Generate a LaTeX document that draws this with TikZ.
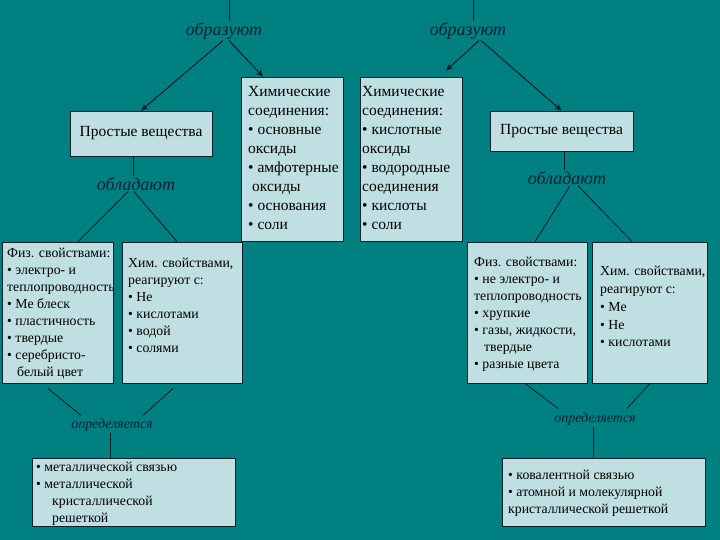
\documentclass[tikz,border=0pt]{standalone}
\usepackage{fontspec}
\setmainfont{Liberation Serif}
\usetikzlibrary{arrows.meta}
\definecolor{bg}{HTML}{008080}
\definecolor{boxfill}{HTML}{C0DFE3}
\definecolor{boxline}{HTML}{10202A}
\definecolor{labc}{HTML}{0C2036}
\definecolor{linec}{HTML}{0C1A2A}
\tikzset{
  box/.style={draw=boxline, fill=boxfill, line width=0.8pt, inner sep=0pt},
  txt/.style={anchor=north west, inner sep=0pt, align=left, text=black},
  lbl/.style={inner sep=1pt, text=labc, font=\itshape\fontsize{18}{20}\selectfont},
  slbl/.style={inner sep=1pt, text=labc, font=\itshape\fontsize{14}{16}\selectfont},
  conn/.style={draw=linec, line width=0.8pt},
  arr/.style={conn, line width=1pt, -{Stealth[length=7pt,width=6pt]}},
  big/.style={font=\fontsize{15.5}{19}\selectfont},
  mid/.style={font=\fontsize{13.8}{17}\selectfont}
}
\begin{document}
\begin{tikzpicture}[x=1pt,y=-1pt]
\fill[bg] (0,0) rectangle (720,540);
\useasboundingbox (0,0) rectangle (720,540);

% boxes
\node[box, minimum width=142, minimum height=45] (ps1) at (141,133.5) {};
\node[box, minimum width=102, minimum height=164] (ch1) at (292,159) {};
\node[box, minimum width=102, minimum height=164] (ch2) at (411,159) {};
\node[box, minimum width=143, minimum height=40] (ps2) at (561.5,131) {};
\node[box, minimum width=111, minimum height=141] (f1) at (57.5,312.5) {};
\node[box, minimum width=120, minimum height=141] (h1) at (182,312.5) {};
\node[box, minimum width=120, minimum height=141] (f2) at (527,312.5) {};
\node[box, minimum width=115, minimum height=141] (h2) at (649.5,312.5) {};
\node[box, minimum width=203, minimum height=68] (m1) at (133.5,492) {};
\node[box, minimum width=203, minimum height=68] (m2) at (603.5,492) {};

% texts
\node[big, inner sep=0pt] (tps1) at (141,133) {Простые вещества};
\node[big, inner sep=0pt] (tps2) at (561.5,131) {Простые вещества};
\node[txt, big] (tch1) at (248,86.5) {Химические\\соединения:\\• основные\\оксиды\\• амфотерные\\\hspace*{4pt}оксиды\\• основания\\• соли};
\node[txt, big] (tch2) at (362,86.5) {Химические\\соединения:\\• кислотные\\оксиды\\• водородные\\соединения\\• кислоты\\• соли};
\node[txt, mid] (tf1) at (7,247.5) {Физ. свойствами:\\• электро- и\\теплопроводность\\• Ме блеск\\• пластичность\\• твердые\\• серебристо-\\\hspace*{10pt}белый цвет};
\node[txt, mid] (th1) at (128,258) {Хим. свойствами,\\реагируют с:\\• Не\\• кислотами\\• водой\\• солями};
\node[txt, mid] (tf2) at (474,257) {Физ. свойствами:\\• не электро- и\\теплопроводность\\• хрупкие\\• газы, жидкости,\\\hspace*{10pt}твердые\\• разные цвета};
\node[txt, mid, font=\fontsize{13.8}{17.8}\selectfont] (th2) at (600,266) {Хим. свойствами,\\реагируют с:\\• Ме\\• Не\\• кислотами};
\node[txt, mid] (tm1) at (36,461.5) {• металлической связью\\• металлической\\\hspace*{16pt}кристаллической\\\hspace*{16pt}решеткой};
\node[txt, mid] (tm2) at (508,469.5) {• ковалентной связью\\• атомной и молекулярной\\кристаллической решеткой};

% labels
\node[lbl] (o1) at (224,31) {образуют};
\node[lbl] (o2) at (468,31) {образуют};
\node[lbl] (b1) at (136,184) {обладают};
\node[lbl] (b2) at (567,178) {обладают};
\node[slbl] (d1) at (112,425) {определяется};
\node[slbl] (d2) at (595,419) {определяется};

% top lines
\coordinate (t1) at (229,0);
\coordinate (t2) at (473,0);
\draw[conn] (t1) -- (t1 |- o1.north);
\draw[conn] (t2) -- (t2 |- o2.north);

% arrows
\draw[arr] ([xshift=-1pt]o1.south) -- (ps1.north);
\draw[arr] ([xshift=5pt]o1.south) -- ([xshift=-29pt]ch1.north);
\draw[arr] ([xshift=11pt]o2.south) -- ([xshift=35pt,yshift=6pt]ch2.north);
\draw[arr] ([xshift=13pt]o2.south) -- (ps2.north);

% обладают
\draw[conn] ([xshift=-8pt]ps1.south) -- ([xshift=-3pt]b1.north);
\draw[conn] ([xshift=-8pt]b1.south) -- ([xshift=20.5pt]f1.north);
\draw[conn] ([xshift=-2pt]b1.south) -- ([xshift=-5pt]h1.north);
\draw[conn] ([xshift=2.5pt]ps2.south) -- ([xshift=-3pt]b2.north);
\draw[conn] ([xshift=3pt]b2.south) -- ([xshift=8pt]f2.north);
\draw[conn] ([xshift=11pt]b2.south) -- ([xshift=-17.5pt]h2.north);

% определяется
\draw[conn] ([xshift=-9.5pt,yshift=-5pt]f1.south) -- ([xshift=-31pt,yshift=2pt]d1.north);
\draw[conn] ([xshift=-9pt,yshift=-5pt]h1.south) -- ([xshift=31pt,yshift=2pt]d1.north);
\draw[conn] ([xshift=-2pt]d1.south) -- ([xshift=-23.5pt]m1.north);
\draw[conn] ([xshift=-2pt]f2.south) -- ([xshift=-37pt,yshift=3pt]d2.north);
\draw[conn] ([xshift=0.5pt]h2.south) -- ([xshift=32pt,yshift=3pt]d2.north);
\draw[conn] ([xshift=-2pt]d2.south) -- ([xshift=-10.5pt]m2.north);
\end{tikzpicture}
\end{document}
